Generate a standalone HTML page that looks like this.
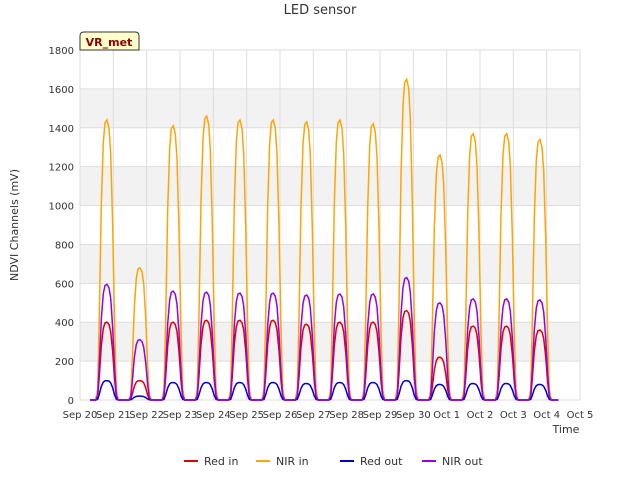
<!DOCTYPE html>
<html><head><meta charset="utf-8"><style>
body{margin:0;background:#fff;font-family:"Liberation Sans","DejaVu Sans",sans-serif}
svg text{font-family:"DejaVu Sans","Liberation Sans",sans-serif}
</style></head><body>
<svg id="c" width="640" height="480">
<text x="320" y="14" text-anchor="middle" font-size="13" fill="#333">LED sensor</text>
<g id="plot"></g>
<text transform="translate(18,225) rotate(-90)" text-anchor="middle" font-size="11" fill="#333">NDVI Channels (mV)</text>
<text x="566" y="433" text-anchor="middle" font-size="11" fill="#333">Time</text>
<g id="legend"></g>
<g>
<path d="M80,50 L80,36 Q80,32 84,32 L135,32 Q139,32 139,36 L139,50 Z" fill="#ffffcc" stroke="#333"/>
<text x="109" y="46" text-anchor="middle" font-size="11" font-weight="bold" fill="#8b0000">VR_met</text>
</g>
</svg>
<script>
const dayLabels=["Sep 20","Sep 21","Sep 22","Sep 23","Sep 24","Sep 25","Sep 26","Sep 27","Sep 28","Sep 29","Sep 30","Oct 1","Oct 2","Oct 3","Oct 4","Oct 5"];
const yTicks=[0,200,400,600,800,1000,1200,1400,1600,1800];
const peakDays=[0.81,1.8,2.8,3.8,4.8,5.8,6.8,7.8,8.8,9.8,10.8,11.8,12.8,13.8];
const nirIn=[1440,680,1410,1460,1440,1440,1430,1440,1420,1650,1260,1370,1370,1340];
const redIn=[400,100,400,410,410,410,390,400,400,460,220,380,380,360];
const redOut=[100,20,90,90,90,90,85,90,90,100,80,85,85,80];
const nirOut=[595,310,560,555,550,550,540,545,545,630,500,520,520,515];
const profileOffsets=[-0.34,-0.28,-0.23,-0.17,-0.11,-0.06,0,0.06,0.11,0.17,0.23,0.28,0.34];
const profileShape=[0,0.04,0.3,0.7,0.92,0.99,1,0.97,0.88,0.62,0.25,0.04,0];
const seriesStart=0.3, seriesEnd=14.35;
const X0=80,X1=580,Y0=400,Y1=50;
const xs=d=>X0+d*(X1-X0)/15;
const ys=v=>Y0-v*(Y0-Y1)/1800;
const NS="http://www.w3.org/2000/svg";
const plot=document.getElementById('plot');
function mk(t,a,p){const e=document.createElementNS(NS,t);for(const k in a)e.setAttribute(k,a[k]);(p||plot).appendChild(e);return e;}
mk('rect',{x:X0,y:Y1,width:X1-X0,height:Y0-Y1,fill:'#fff',stroke:'#ddd'});
for(let i=0;i<yTicks.length-1;i++){if(i%2==1){const r=mk('rect',{x:X0,y:ys(yTicks[i+1]),width:X1-X0,height:ys(yTicks[i])-ys(yTicks[i+1]),fill:'#f2f2f2'});

}}
yTicks.forEach(v=>{mk('line',{x1:X0,x2:X1,y1:ys(v),y2:ys(v),stroke:'#ddd'});
const t=mk('text',{x:X0-6,y:ys(v)+4,'text-anchor':'end','font-size':10,fill:'#333'});t.textContent=v;

});
dayLabels.forEach((l,i)=>{mk('line',{x1:xs(i),x2:xs(i),y1:Y1,y2:Y0,stroke:'#ddd'});
const t=mk('text',{x:xs(i),y:Y0+18,'text-anchor':'middle','font-size':10,fill:'#333'});t.textContent=l;

});
function series(vals,color,name){
 const pts=[[xs(seriesStart),ys(0)]];
 vals.forEach((p,i)=>{profileOffsets.forEach((o,j)=>pts.push([xs(peakDays[i]+o),ys(p*profileShape[j])]));});
 pts.push([xs(seriesEnd),ys(0)]);
 const e=mk('polyline',{points:pts.map(p=>p[0].toFixed(1)+','+p[1].toFixed(1)).join(' '),fill:'none',stroke:color,'stroke-width':1.5});
 
 
}
series(redIn,'#e00000','series-red-in');
series(nirIn,'#ffa500','series-nir-in');
series(redOut,'#0000cc','series-red-out');
series(nirOut,'#9400f0','series-nir-out');
const lg=document.getElementById('legend');
const leg=[["Red in","#e00000",184],["NIR in","#ffa500",256],["Red out","#0000cc",340],["NIR out","#9400f0",422]];
leg.forEach(([n,c,x])=>{const g=mk('g',{},lg);


mk('line',{x1:x,x2:x+14,y1:461,y2:461,stroke:c,'stroke-width':2},g);
const t=mk('text',{x:x+20,y:465,'font-size':11,fill:'#333'},g);t.textContent=n;});
</script>
</body></html>
